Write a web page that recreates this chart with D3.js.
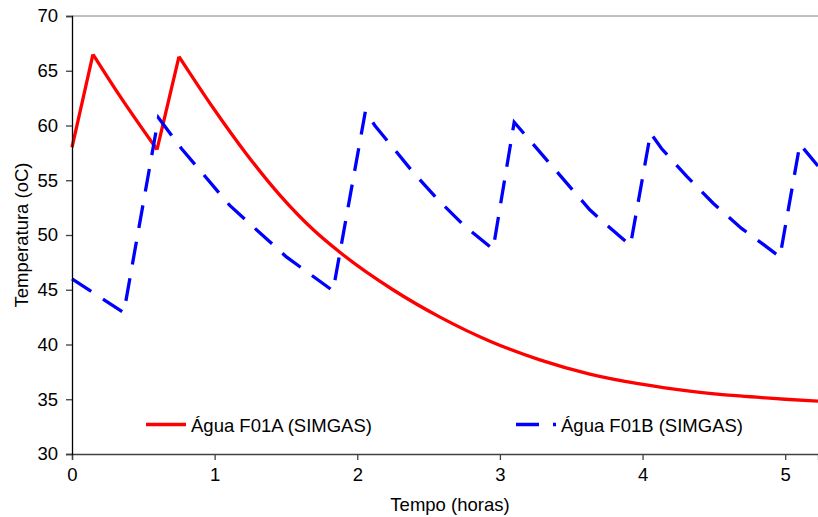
<!DOCTYPE html>
<html>
<head>
<meta charset="utf-8">
<script src="https://cdn.jsdelivr.net/npm/d3@7"></script>
<style>
  body { margin: 0; background: #fff; }
  svg { display: block; font-family: Arial, "Liberation Sans", sans-serif; }
</style>
</head>
<body>
<svg class="temp-chart" width="818" height="517"></svg>
<script>
// Água F01A (SIMGAS)
var tempoA = [0, 0.147, 0.335, 0.596, 0.75, 0.99, 1.22, 1.46, 1.69, 1.88, 2.25, 2.58, 2.93, 3.28, 3.63, 3.98, 4.33, 4.68, 5.0, 5.23];
var aguaF01A = [58.0, 66.5, 62.7, 57.8, 66.3, 61.6, 57.45, 53.6, 50.5, 48.4, 45.0, 42.5, 40.3, 38.6, 37.3, 36.4, 35.75, 35.3, 35.0, 34.82];

// Água F01B (SIMGAS)
var tempoB = [0, 0.363, 0.606, 0.767, 1.106, 1.503, 1.83, 2.057, 2.123, 2.39, 2.567, 2.754, 2.952, 3.10, 3.63, 3.75, 3.915, 4.056, 4.133, 4.31, 4.495, 4.694, 4.82, 4.963, 5.103, 5.23];
var aguaF01B = [46.0, 42.9, 60.7, 57.9, 52.7, 48.0, 44.9, 61.3, 60.0, 55.75, 53.2, 50.8, 48.7, 60.3, 52.3, 50.9, 49.05, 59.3, 57.9, 55.35, 52.9, 50.6, 49.4, 48.0, 58.3, 56.3];

var yTicks = [30, 35, 40, 45, 50, 55, 60, 65, 70];
var xTicks = [0, 1, 2, 3, 4, 5];
var seriesNames = ["Água F01A (SIMGAS)", "Água F01B (SIMGAS)"];

// split a series into monotone runs so peaks stay sharp
function monotoneRuns(data) {
  var runs = [], cur = [data[0]];
  for (var i = 1; i < data.length; i++) {
    cur.push(data[i]);
    if (i < data.length - 1) {
      var a = data[i][1] - data[i - 1][1], b = data[i + 1][1] - data[i][1];
      if (a * b < 0) { runs.push(cur); cur = [data[i]]; }
    }
  }
  runs.push(cur);
  return runs;
}

function BuildChart(strClass) {
  var svg = d3.select("svg." + strClass),
      left = 72,
      right = 818,
      top = 16,
      bottom = 454,
      fs = "18.5px";

  var xScale = d3.scaleLinear().domain([0, 5.23]).range([left, right]),
      yScale = d3.scaleLinear().domain([30, 70]).range([bottom, top]);

  // top border of plot area
  svg.append("line")
     .attr("x1", left).attr("x2", right)
     .attr("y1", top).attr("y2", top)
     .attr("stroke", "#808080")
     .attr("stroke-width", 1);

  var curved = d3.line()
     .curve(d3.curveMonotoneX)
     .x(function(d) { return xScale(d[0]); })
     .y(function(d) { return yScale(d[1]); });

  var straight = d3.line()
     .x(function(d) { return xScale(d[0]); })
     .y(function(d) { return yScale(d[1]); });

  var dataA = tempoA.map(function(t, i) { return [t, aguaF01A[i]]; });
  var dataB = tempoB.map(function(t, i) { return [t, aguaF01B[i]]; });

  svg.selectAll(".run-a")
     .data(monotoneRuns(dataA))
     .enter().append("path")
     .attr("class", "run-a")
     .attr("fill", "none")
     .attr("stroke", "#ff0000")
     .attr("stroke-width", 3.3)
     .attr("stroke-linejoin", "miter")
     .attr("d", curved);

  svg.append("path")
     .datum(dataB)
     .attr("fill", "none")
     .attr("stroke", "#0000ff")
     .attr("stroke-width", 3.3)
     .attr("stroke-dasharray", "23,14")
     .attr("d", straight);

  // x axis
  var gx = svg.append("g")
     .attr("transform", "translate(0," + bottom + ")")
     .call(d3.axisBottom(xScale).tickValues(xTicks).tickSize(6).tickPadding(8).tickFormat(d3.format("d")));
  gx.select(".domain").attr("stroke", "#404040").attr("stroke-width", 1.3);
  gx.selectAll(".tick line").attr("stroke", "#404040").attr("stroke-width", 1.3);
  gx.selectAll(".tick text").attr("font-size", fs).attr("font-family", "Arial, 'Liberation Sans', sans-serif").attr("fill", "#000");

  // y axis
  var gy = svg.append("g")
     .attr("transform", "translate(" + left + ",0)")
     .call(d3.axisLeft(yScale).tickValues(yTicks).tickSize(6).tickPadding(8));
  gy.select(".domain").attr("stroke", "#000").attr("stroke-width", 1.3);
  gy.selectAll(".tick line").attr("stroke", "#404040").attr("stroke-width", 1.3);
  gy.selectAll(".tick text").attr("font-size", fs).attr("font-family", "Arial, 'Liberation Sans', sans-serif").attr("fill", "#000");

  svg.append("text")
     .attr("x", 450)
     .attr("y", 511)
     .attr("text-anchor", "middle")
     .attr("font-size", fs)
     .text("Tempo (horas)");

  svg.append("text")
     .attr("transform", "translate(28,235) rotate(-90)")
     .attr("text-anchor", "middle")
     .attr("font-size", fs)
     .text("Temperatura (oC)");

  // legend
  var legend = [
    { name: seriesNames[0], color: "#ff0000", dash: null, x: 146 },
    { name: seriesNames[1], color: "#0000ff", dash: "23,14", x: 516 }
  ];
  var lg = svg.selectAll(".legend")
     .data(legend)
     .enter().append("g")
     .attr("class", "legend")
     .attr("transform", function(d) { return "translate(" + d.x + ",424.5)"; });
  lg.append("line")
     .attr("x1", 0).attr("x2", 40)
     .attr("stroke", function(d) { return d.color; })
     .attr("stroke-width", 3.3)
     .attr("stroke-dasharray", function(d) { return d.dash; });
  lg.append("text")
     .attr("x", 45)
     .attr("y", 7)
     .attr("font-size", fs)
     .text(function(d) { return d.name; });
}

BuildChart("temp-chart");
</script>
</body>
</html>
